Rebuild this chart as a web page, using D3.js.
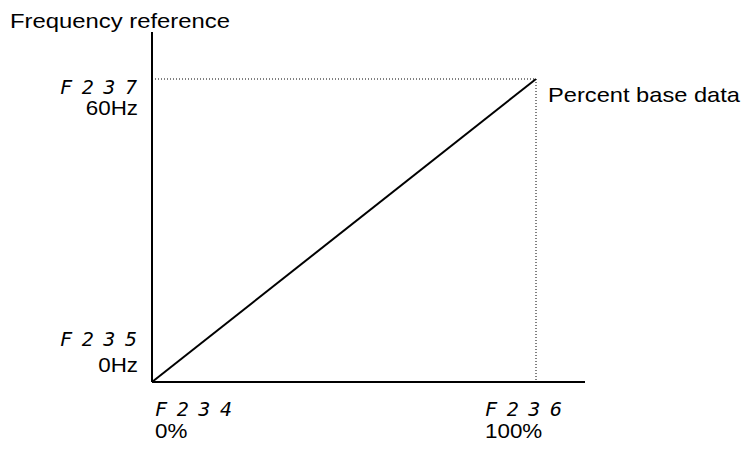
<!DOCTYPE html>
<html><head><meta charset="utf-8">
<script src="https://cdn.jsdelivr.net/npm/d3@7"></script>
<style>body{margin:0;background:#fff}svg{display:block}</style>
</head><body>
<script>
const percentValues = [0, 100];
const freqValues = [0, 60];
const xCodes = ["F234", "F236"];
const xLabels = ["0%", "100%"];
const yCodes = ["F235", "F237"];
const yLabels = ["0Hz", "60Hz"];
const yTitle = "Frequency reference";
const lineLabel = "Percent base data";

const W = 744, H = 457;
const svg = d3.select("body").append("svg").attr("width", W).attr("height", H);
const x = d3.scaleLinear().domain([0, 112.76]).range([152, 585]);
const y = d3.scaleLinear().domain([0, 60]).range([382, 79]);
const yTop = 69.3;
const font = "Liberation Sans, Arial, sans-serif";
const segFont = "DejaVu Sans Mono, monospace";
const stretch = 1.12;

function label(sel, txt, lx, ly, anchor) {
  const t = sel.append("text").attr("font-family", font).attr("font-size", 20)
    .attr("text-anchor", anchor || "start")
    .attr("transform", `translate(${lx},${ly}) scale(${stretch},1)`).text(txt);
  return t;
}

// dotted guides
svg.append("line").attr("x1", x(0)).attr("x2", x(percentValues[1])).attr("y1", y(freqValues[1])).attr("y2", y(freqValues[1]))
  .attr("stroke", "#000").attr("stroke-width", 1).attr("stroke-dasharray", "1,2");
svg.append("line").attr("x1", x(percentValues[1])).attr("x2", x(percentValues[1])).attr("y1", y(freqValues[1])).attr("y2", y(0))
  .attr("stroke", "#000").attr("stroke-width", 1).attr("stroke-dasharray", "1,2");

// axes
svg.append("line").attr("x1", x(0)).attr("x2", x(0)).attr("y1", y(0)).attr("y2", y(yTop)).attr("stroke", "#000").attr("stroke-width", 2);
svg.append("line").attr("x1", x(0)).attr("x2", x(x.domain()[1])).attr("y1", y(0)).attr("y2", y(0)).attr("stroke", "#000").attr("stroke-width", 2);

// data line
const data = percentValues.map((p, i) => [p, freqValues[i]]);
svg.append("path").datum(data).attr("d", d3.line().x(d => x(d[0])).y(d => y(d[1])))
  .attr("fill", "none").attr("stroke", "#000").attr("stroke-width", 2);

// title + line label
svg.append("text").attr("x", 10).attr("y", 28).attr("font-family", font).attr("font-size", 21)
  .attr("textLength", 220).attr("lengthAdjust", "spacingAndGlyphs").text(yTitle);
svg.append("text").attr("x", 548).attr("y", 102).attr("font-family", font).attr("font-size", 21)
  .attr("textLength", 192).attr("lengthAdjust", "spacingAndGlyphs").text(lineLabel);

// y labels
freqValues.forEach((v, i) => {
  svg.append("text").attr("x", 60).attr("y", y(v) + (i === 1 ? 15 : -36)).attr("font-family", segFont)
    .attr("font-style", "italic").attr("font-size", 20).attr("textLength", 77).attr("lengthAdjust", "spacing").text(yCodes[i]);
  label(svg, yLabels[i], 138, y(v) + (i === 1 ? 36 : -10), "end");
});
// x labels
percentValues.forEach((v, i) => {
  const lx = x(v) + (i === 0 ? 3 : -51);
  svg.append("text").attr("x", lx).attr("y", 416).attr("font-family", segFont)
    .attr("font-style", "italic").attr("font-size", 20).attr("textLength", 77).attr("lengthAdjust", "spacing").text(xCodes[i]);
  label(svg, xLabels[i], lx, 438);
});
</script>
</body></html>
